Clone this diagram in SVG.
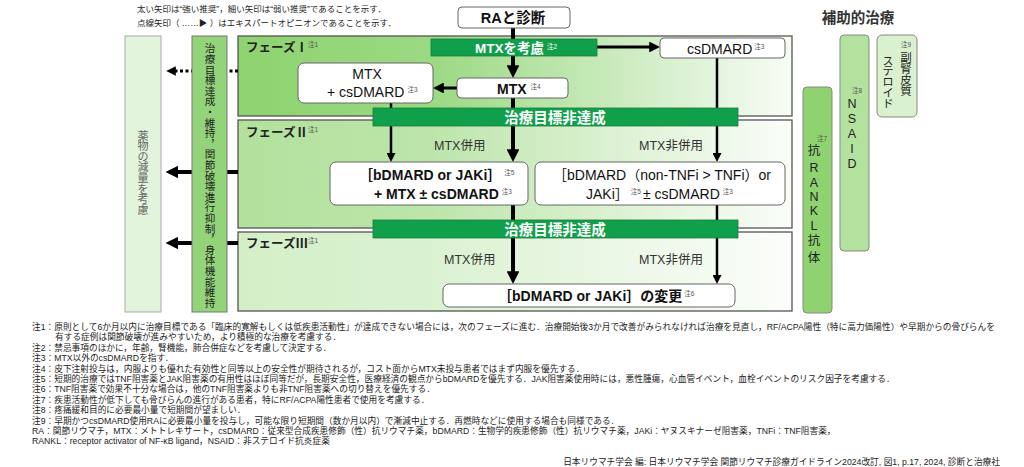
<svg xmlns="http://www.w3.org/2000/svg" width="1024" height="467" viewBox="0 0 1024 467">
<defs>
<linearGradient id="g1" x1="0" y1="0" x2="1" y2="0"><stop offset="0" stop-color="#8ed36f"/><stop offset="0.35" stop-color="#9bd983"/><stop offset="1" stop-color="#f8fcf6"/></linearGradient>
<linearGradient id="g2" x1="0" y1="0" x2="1" y2="0"><stop offset="0" stop-color="#b2e19c"/><stop offset="0.35" stop-color="#bde5ab"/><stop offset="1" stop-color="#fafdf9"/></linearGradient>
<linearGradient id="g3" x1="0" y1="0" x2="1" y2="0"><stop offset="0" stop-color="#d4efc8"/><stop offset="0.35" stop-color="#dbf2d1"/><stop offset="1" stop-color="#fbfdfa"/></linearGradient>
<marker id="ahT" viewBox="0 0 10 10" refX="5" refY="5" markerWidth="3.2" markerHeight="3.2" orient="auto" markerUnits="strokeWidth"><path d="M0,0 L10,5 L0,10 z" fill="#000"/></marker>
<marker id="ahS" viewBox="0 0 10 10" refX="5" refY="5" markerWidth="3.6" markerHeight="3.6" orient="auto" markerUnits="strokeWidth"><path d="M0,0 L10,5 L0,10 z" fill="#000"/></marker>
</defs>
<style>
.f{font-family:'Liberation Sans','Noto Sans CJK JP',sans-serif}
.phase{stroke:#555;stroke-width:1.3}
.box{fill:#fff;stroke:#666;stroke-width:1}
.bar{fill:#10a04b;stroke:#1d7a3a;stroke-width:0.8}
.bt{font-size:14.5px;font-weight:bold;fill:#fff}
.sup{font-size:6.5px;fill:#555;font-weight:normal}
.supw{font-size:6.5px;fill:#fff;font-weight:normal}
.lbl{font-size:12.5px;fill:#333}
.ph{font-size:12.5px;font-weight:bold;fill:#222}
.note{font-size:8.7px;fill:#222}
.thick{stroke:#000;stroke-width:4;fill:none}
.thin{stroke:#000;stroke-width:2.5;fill:none}
.mid{stroke:#000;stroke-width:3;fill:none}
</style>

<text class="f" x="137" y="12" font-size="8.5" fill="#222">太い矢印は“強い推奨”，細い矢印は“弱い推奨”であることを示す．</text>
<text class="f" x="137" y="26" font-size="8.5" fill="#222">点線矢印（ ……▶ ）はエキスパートオピニオンであることを示す．</text>

<g id="phases">
<rect id="phase1" class="phase" x="238" y="36" width="554" height="80" fill="url(#g1)"/>
<rect id="phase2" class="phase" x="238" y="120" width="554" height="108" fill="url(#g2)"/>
<rect id="phase3" class="phase" x="238" y="232" width="554" height="79" fill="url(#g3)"/>
<text class="f ph" x="246" y="52">フェーズⅠ<tspan class="sup" dy="-5">注1</tspan></text>
<text class="f ph" x="246" y="137">フェーズⅡ<tspan class="sup" dy="-5">注1</tspan></text>
<text class="f ph" x="246" y="248">フェーズⅢ<tspan class="sup" dy="-5">注1</tspan></text>
</g>

<g id="connectors">
<line class="thick" x1="513" y1="28" x2="513" y2="71.6" marker-end="url(#ahT)"/>
<line class="mid" x1="597" y1="47" x2="654.6" y2="47" marker-end="url(#ahS)"/>
<line class="mid" x1="457" y1="88" x2="438.4" y2="88" marker-end="url(#ahS)"/>
<line class="thin" x1="391" y1="103" x2="391" y2="157.5" marker-end="url(#ahS)"/>
<line class="thick" x1="513" y1="98" x2="513" y2="155.6" marker-end="url(#ahT)"/>
<line class="thin" x1="717" y1="58" x2="717" y2="157.5" marker-end="url(#ahS)"/>
<line class="thick" x1="513" y1="205" x2="513" y2="277.6" marker-end="url(#ahT)"/>
<line class="thin" x1="717" y1="205" x2="717" y2="279.5" marker-end="url(#ahS)"/>
<line class="mid" x1="238" y1="71" x2="171" y2="71" stroke-dasharray="3 2.5" marker-end="url(#ahT)"/>
<line class="thick" x1="238" y1="172" x2="172" y2="172" marker-end="url(#ahT)"/>
<line class="thick" x1="238" y1="243" x2="172" y2="243" marker-end="url(#ahT)"/>
</g>

<g id="ra">
<rect class="box" x="458" y="7" width="112" height="21" rx="4"/>
<text class="f" x="513" y="23" font-size="14.5" font-weight="bold" text-anchor="middle" fill="#111">RAと診断</text>
</g>

<g id="mtx-consider">
<rect class="bar" x="431" y="39" width="166" height="17"/>
<text class="f" x="475" y="52.5" font-size="13.5" font-weight="bold" fill="#fff">MTXを考慮<tspan class="supw" dx="3" dy="-4">注2</tspan></text>
</g>

<g id="csdmard">
<rect class="box" x="660" y="38" width="125" height="20" rx="4"/>
<text class="f" x="687" y="53.5" font-size="14" fill="#111">csDMARD<tspan class="sup" dx="2" dy="-5">注3</tspan></text>
</g>

<g id="mtx">
<rect class="box" x="457" y="78" width="111" height="20" rx="4"/>
<text class="f" x="497" y="93.5" font-size="14" font-weight="bold" fill="#111">MTX<tspan class="sup" dx="4" dy="-5">注4</tspan></text>
</g>

<g id="mtx-csdmard">
<rect class="box" x="298" y="63" width="135" height="40" rx="6"/>
<text class="f" x="367" y="79" font-size="14" text-anchor="middle" fill="#111">MTX</text>
<text class="f" x="327" y="97" font-size="14" fill="#111">+ csDMARD<tspan class="sup" dx="3" dy="-5">注3</tspan></text>
</g>

<g id="not-achieved-1">
<rect class="bar" x="373" y="108" width="365" height="18"/>
<text class="f bt" x="555" y="122.5" text-anchor="middle">治療目標非達成</text>
</g>

<g id="phase2-mtx-label"><text class="f lbl" x="434" y="150">MTX併用</text></g>
<g id="phase2-nonmtx-label"><text class="f lbl" x="639" y="150">MTX非併用</text></g>

<g id="bdmard-mtx">
<rect class="box" x="330" y="162" width="198" height="43" rx="6"/>
<text class="f" x="359" y="180" font-size="14" font-weight="bold" fill="#111">［bDMARD or JAKi］<tspan class="sup" dx="3" dy="-5">注5</tspan></text>
<text class="f" x="374" y="199" font-size="14" font-weight="bold" fill="#111">+ MTX ± csDMARD<tspan class="sup" dx="3" dy="-5">注3</tspan></text>
</g>

<g id="bdmard-nonmtx">
<rect class="box" x="535" y="162" width="250" height="43" rx="6"/>
<text class="f" x="662" y="180" font-size="14" text-anchor="middle" fill="#111">［bDMARD（non-TNFi &gt; TNFi）or</text>
<text class="f" x="586" y="199" font-size="14" fill="#111">JAKi］<tspan class="sup" dx="2" dy="-5">注5</tspan><tspan dy="5" dx="2">± csDMARD</tspan><tspan class="sup" dx="3" dy="-5">注3</tspan></text>
</g>

<g id="not-achieved-2">
<rect class="bar" x="373" y="220" width="365" height="18"/>
<text class="f bt" x="555" y="234.5" text-anchor="middle">治療目標非達成</text>
</g>

<g id="phase3-mtx-label"><text class="f lbl" x="444" y="264">MTX併用</text></g>
<g id="phase3-nonmtx-label"><text class="f lbl" x="639" y="264">MTX非併用</text></g>

<g id="change">
<rect class="box" x="443" y="284" width="292" height="23" rx="6"/>
<text class="f" x="498" y="300.5" font-size="14" font-weight="bold" fill="#111">［bDMARD or JAKi］の変更<tspan class="sup" dx="2" dy="-5">注6</tspan></text>
</g>

<g id="reduce">
<rect x="125" y="36" width="36" height="276" fill="#e3f4dc" stroke="#aaa" stroke-width="1"/>
<text class="f" font-size="11" fill="#666" text-anchor="middle"><tspan x="143" y="139.5">薬</tspan><tspan x="143" y="150.1">物</tspan><tspan x="143" y="160.7">の</tspan><tspan x="143" y="171.3">減</tspan><tspan x="143" y="181.9">量</tspan><tspan x="143" y="192.5">を</tspan><tspan x="143" y="203.1">考</tspan><tspan x="143" y="213.7">慮</tspan></text>
</g>

<g id="goal">
<rect x="192" y="36" width="35" height="276" fill="#93d47a" stroke="#777" stroke-width="1"/>
<text class="f" font-size="10.6" fill="#222" text-anchor="middle"><tspan x="210" y="52.3">治</tspan><tspan x="210" y="62.9">療</tspan><tspan x="210" y="73.5">目</tspan><tspan x="210" y="84.1">標</tspan><tspan x="210" y="94.7">達</tspan><tspan x="210" y="105.3">成</tspan><tspan x="210" y="115.9">・</tspan><tspan x="210" y="126.5">維</tspan><tspan x="210" y="137.1">持</tspan><tspan x="210" y="147.7">︐</tspan><tspan x="210" y="158.3">関</tspan><tspan x="210" y="168.9">節</tspan><tspan x="210" y="179.5">破</tspan><tspan x="210" y="190.1">壊</tspan><tspan x="210" y="200.7">進</tspan><tspan x="210" y="211.3">行</tspan><tspan x="210" y="221.9">抑</tspan><tspan x="210" y="232.5">制</tspan><tspan x="210" y="243.1">︐</tspan><tspan x="210" y="253.7">身</tspan><tspan x="210" y="264.3">体</tspan><tspan x="210" y="274.9">機</tspan><tspan x="210" y="285.5">能</tspan><tspan x="210" y="296.1">維</tspan><tspan x="210" y="306.7">持</tspan></text>
</g>

<g id="adjunct-title"><text class="f" x="858" y="23" font-size="14.5" font-weight="bold" text-anchor="middle" fill="#333">補助的治療</text></g>

<g id="rankl">
<rect x="803" y="87" width="29" height="226" rx="4" fill="#8ed36f" stroke="#888" stroke-width="1"/>
<text class="f sup" x="822" y="141" text-anchor="middle">注7</text>
<text class="f" font-size="12.5" fill="#222" text-anchor="middle"><tspan x="814" y="155">抗</tspan><tspan x="814" y="171.5">R</tspan><tspan x="814" y="186.5">A</tspan><tspan x="814" y="200.5">N</tspan><tspan x="814" y="214.5">K</tspan><tspan x="814" y="229.5">L</tspan><tspan x="814" y="245">抗</tspan><tspan x="814" y="262">体</tspan></text>
</g>

<g id="nsaid">
<rect x="840" y="35" width="29" height="216" rx="4" fill="#b3e29f" stroke="#888" stroke-width="1"/>
<text class="f sup" x="857" y="93" text-anchor="middle">注8</text>
<text class="f" font-size="12.5" fill="#222" text-anchor="middle"><tspan x="852" y="107.5">N</tspan><tspan x="852" y="122.5">S</tspan><tspan x="852" y="137.5">A</tspan><tspan x="852" y="152.5">I</tspan><tspan x="852" y="167.5">D</tspan></text>
</g>

<g id="steroid">
<rect x="877" y="35" width="40" height="82" rx="5" fill="#daf1cf" stroke="#888" stroke-width="1"/>
<text class="f sup" x="906" y="47" text-anchor="middle">注9</text>
<text class="f" font-size="11.5" fill="#222" text-anchor="middle"><tspan x="906" y="61.5">副</tspan><tspan x="906" y="72.8">腎</tspan><tspan x="906" y="84.1">皮</tspan><tspan x="906" y="95.4">質</tspan></text>
<text class="f" font-size="11" fill="#222" text-anchor="middle"><tspan x="888" y="64.5">ス</tspan><tspan x="888" y="75.3">テ</tspan><tspan x="888" y="86">ロ</tspan><tspan x="888" y="96.8">イ</tspan><tspan x="888" y="107.5">ド</tspan></text>
</g>

<g id="notes">
<text class="f note" x="32" y="330">注1：原則として6か月以内に治療目標である「臨床的寛解もしくは低疾患活動性」が達成できない場合には，次のフェーズに進む．治療開始後3か月で改善がみられなければ治療を見直し，RF/ACPA陽性（特に高力価陽性）や早期からの骨びらんを</text>
<text class="f note" x="55" y="340.4">有する症例は関節破壊が進みやすいため，より積極的な治療を考慮する．</text>
<text class="f note" x="32" y="350.8">注2：禁忌事項のほかに，年齢，腎機能，肺合併症などを考慮して決定する．</text>
<text class="f note" x="32" y="361.2">注3：MTX以外のcsDMARDを指す．</text>
<text class="f note" x="32" y="371.6">注4：皮下注射投与は，内服よりも優れた有効性と同等以上の安全性が期待されるが，コスト面からMTX未投与患者ではまず内服を優先する．</text>
<text class="f note" x="32" y="382">注5：短期的治療ではTNF阻害薬とJAK阻害薬の有用性はほぼ同等だが，長期安全性，医療経済の観点からbDMARDを優先する．JAK阻害薬使用時には，悪性腫瘍，心血管イベント，血栓イベントのリスク因子を考慮する．</text>
<text class="f note" x="32" y="392.4">注6：TNF阻害薬で効果不十分な場合は，他のTNF阻害薬よりも非TNF阻害薬への切り替えを優先する．</text>
<text class="f note" x="32" y="402.8">注7：疾患活動性が低下しても骨びらんの進行がある患者，特にRF/ACPA陽性患者で使用を考慮する．</text>
<text class="f note" x="32" y="413.2">注8：疼痛緩和目的に必要最小量で短期間が望ましい．</text>
<text class="f note" x="32" y="423.6">注9：早期かつcsDMARD使用RAに必要最小量を投与し，可能な限り短期間（数か月以内）で漸減中止する．再燃時などに使用する場合も同様である．</text>
<text class="f note" x="32" y="434">RA：関節リウマチ，MTX：メトトレキサート，csDMARD：従来型合成疾患修飾（性）抗リウマチ薬，bDMARD：生物学的疾患修飾（性）抗リウマチ薬，JAKi：ヤヌスキナーゼ阻害薬，TNFi：TNF阻害薬，</text>
<text class="f note" x="32" y="444.4">RANKL：receptor activator of NF-κB ligand，NSAID：非ステロイド抗炎症薬</text>
<text class="f note" x="1000" y="465" text-anchor="end">日本リウマチ学会 編: 日本リウマチ学会 関節リウマチ診療ガイドライン2024改訂, 図1, p.17, 2024, 診断と治療社</text>
</g>
</svg>
